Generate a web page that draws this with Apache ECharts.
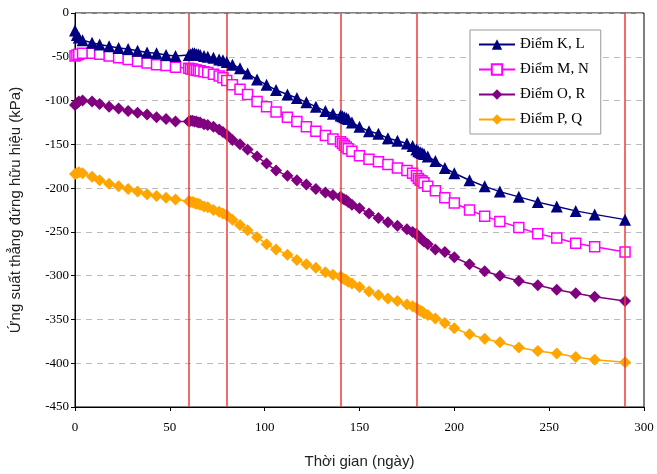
<!DOCTYPE html>
<html><head><meta charset="utf-8">
<script src="https://cdn.jsdelivr.net/npm/echarts@6/dist/echarts.min.js"></script>
<style>html,body{margin:0;padding:0;background:#fff}#c{width:657px;height:474px}</style>
</head><body><div id="c"></div>
<script>
const days = [0,1,2,4,9,13,18,23,28,33,38,43,48,53,
  60,61,62,63,64,65,66,68,70,73,76,78,80,
  83,87,91,96,101,106,112,117,122,127,132,136,
  140,141,142,143,144,146,150,155,160,165,170,175,178,
  180,181,182,183,184,186,190,
  195,200,208,216,224,234,244,254,264,274,290];
const seriesKL = [-20,-25,-28,-31,-34,-36,-38,-40,-41,-43,-45,-46,-48,-49,
  -48,-47,-46,-46,-47,-47,-48,-49,-50,-51,-53,-54,-56,
  -59,-63,-69,-76,-82,-88,-93,-97,-102,-107,-112,-115,
  -117,-118,-119,-120,-121,-125,-130,-135,-138,-143,-146,-149,-152,
  -156,-158,-159,-160,-161,-164,-169,
  -177,-183,-191,-198,-204,-210,-216,-221,-226,-230,-236];
const seriesMN = [-49,-48,-47,-46,-46,-47,-49,-51,-53,-55,-57,-59,-60,-62,
  -63,-64,-64,-65,-65,-66,-66,-67,-68,-70,-72,-74,-77,
  -82,-87,-93,-101,-107,-113,-119,-124,-130,-135,-140,-144,
  -147,-149,-151,-153,-155,-158,-163,-167,-170,-173,-177,-180,-183,
  -186,-189,-191,-192,-194,-198,-203,
  -211,-217,-225,-232,-238,-245,-252,-257,-263,-267,-273];
const seriesOR = [-105,-103,-101,-100,-101,-104,-107,-109,-112,-114,-116,-119,-121,-124,
  -124,-123,-123,-124,-124,-125,-125,-127,-128,-130,-133,-136,-139,
  -145,-150,-156,-164,-172,-180,-186,-191,-196,-201,-205,-208,
  -210,-212,-213,-214,-216,-219,-223,-229,-234,-239,-243,-247,-250,
  -252,-255,-257,-259,-261,-264,-270,
  -273,-279,-287,-295,-300,-306,-311,-316,-320,-324,-329];
const seriesPQ = [-184,-183,-182,-183,-187,-191,-195,-198,-201,-204,-207,-209,-211,-213,
  -215,-216,-216,-217,-218,-218,-219,-221,-222,-225,-227,-229,-231,
  -236,-242,-248,-256,-264,-270,-276,-282,-287,-291,-296,-299,
  -301,-303,-304,-305,-307,-309,-313,-318,-322,-326,-329,-333,-335,
  -337,-339,-340,-341,-343,-345,-349,
  -354,-360,-367,-372,-376,-382,-386,-389,-393,-396,-399];
const seriesNames = ['Điểm K, L','Điểm M, N','Điểm O, R','Điểm P, Q'];
const stageLines = [60,80,140,180,290];
const xTicks = {min:0,max:300,interval:50};
const yTicks = {min:-450,max:0,interval:50};

const pair = v => days.map((d,i)=>[d,v[i]]);
const chart = echarts.init(document.getElementById('c'));
const serif = 'Liberation Serif';
chart.setOption({
  animation:false,
  backgroundColor:'#fff',
  grid:{left:75,right:13,top:13,bottom:66,show:true,borderColor:'#000',borderWidth:1},
  legend:{orient:'vertical',left:470,top:30,itemGap:10,itemWidth:36,itemHeight:13,
    padding:[7,12,7,8],borderColor:'#999',borderWidth:1,backgroundColor:'#fff',
    textStyle:{fontFamily:serif,fontSize:15,color:'#000'},data:seriesNames},
  xAxis:{type:'value',min:xTicks.min,max:xTicks.max,interval:xTicks.interval,
    name:'Thời gian (ngày)',nameLocation:'middle',nameGap:47,
    nameTextStyle:{fontFamily:'Liberation Sans',fontSize:15,color:'#222'},
    axisLine:{onZero:false,lineStyle:{color:'#000',width:1}},
    axisTick:{show:true,length:4,lineStyle:{color:'#000'}},
    axisLabel:{fontFamily:serif,fontSize:13,color:'#000',margin:14},
    splitLine:{show:false}},
  yAxis:{type:'value',min:yTicks.min,max:yTicks.max,interval:yTicks.interval,
    name:'Ứng suất thẳng đứng hữu hiệu (kPa)',nameLocation:'middle',nameGap:52,
    nameTextStyle:{fontFamily:'Liberation Sans',fontSize:15,color:'#222'},
    axisLine:{onZero:false,lineStyle:{color:'#000',width:1}},
    axisTick:{show:true,length:4,lineStyle:{color:'#000'}},
    axisLabel:{fontFamily:serif,fontSize:13,color:'#000',margin:6},
    splitLine:{show:true,lineStyle:{color:'#bbb',type:[6,5],width:1}}},
  series:[
    {name:seriesNames[0],type:'line',data:pair(seriesKL),symbol:'triangle',symbolSize:12,
     color:'#000080',lineStyle:{width:1.5,color:'#000080'},itemStyle:{color:'#000080'},z:5,
     markLine:{silent:true,symbol:'none',label:{show:false},
       lineStyle:{color:'#f03a3a',width:1.5,type:'solid'},
       data:stageLines.map(x=>({xAxis:x}))}},
    {name:seriesNames[1],type:'line',data:pair(seriesMN),symbol:'rect',symbolSize:10,
     color:'#ff00ff',lineStyle:{width:1.5,color:'#ff00ff'},
     itemStyle:{color:'#fff',borderColor:'#ff00ff',borderWidth:1.5},z:4},
    {name:seriesNames[2],type:'line',data:pair(seriesOR),symbol:'diamond',symbolSize:12,
     color:'#800080',lineStyle:{width:1.5,color:'#800080'},itemStyle:{color:'#800080'},z:3},
    {name:seriesNames[3],type:'line',data:pair(seriesPQ),symbol:'diamond',symbolSize:12,
     color:'#ffa500',lineStyle:{width:1.5,color:'#ffa500'},itemStyle:{color:'#ffa500'},z:2}
  ]
});
</script></body></html>
